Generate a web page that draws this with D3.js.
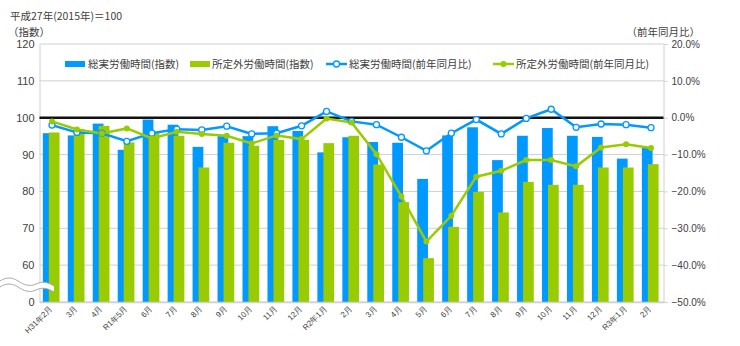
<!DOCTYPE html>
<html><head><meta charset="utf-8">
<script src="https://cdn.jsdelivr.net/npm/d3@7"></script>
<style>
body{margin:0;background:#fff;}
svg{display:block;font-family:"Noto Sans CJK JP","Noto Sans",sans-serif;}
</style></head>
<body><svg id="c" width="740" height="346"></svg>
<script>
const categories = ["H31年2月","3月","4月","R1年5月","6月","7月","8月","9月","10月","11月","12月","R2年1月","2月","3月","4月","5月","6月","7月","8月","9月","10月","11月","12月","R3年1月","2月"];
const totalIndex = [95.8,95.2,98.4,91.3,99.5,98.1,92.1,95.0,95.0,97.7,96.4,90.6,94.7,93.4,93.2,83.4,95.2,97.4,88.5,95.1,97.2,95.1,94.8,88.9,91.8];
const overtimeIndex = [96.0,96.9,97.8,93.3,95.8,95.1,86.5,93.2,92.4,94.0,94.0,93.1,95.1,87.3,77.1,61.9,70.4,79.9,74.3,82.6,81.8,81.8,86.5,86.5,87.4];
const totalYoY = [-2.0,-4.0,-4.2,-6.4,-4.2,-3.1,-3.3,-2.3,-4.4,-4.2,-2.2,1.7,-1.0,-1.9,-5.3,-9.0,-4.2,-0.5,-4.4,-0.2,2.3,-2.6,-1.7,-1.9,-2.7];
const overtimeYoY = [-1.0,-3.2,-4.3,-2.9,-5.6,-3.8,-4.4,-4.9,-7.0,-4.8,-5.8,-0.2,-1.3,-9.9,-21.4,-33.6,-26.6,-16.0,-14.4,-11.5,-11.5,-13.2,-8.1,-7.2,-8.2];
const leftTicks = [50,60,70,80,90,100,110,120];
const leftTickLabels = ["0","60","70","80","90","100","110","120"];
const rightTicks = [-50,-40,-30,-20,-10,0,10,20];
const seriesNames = ["総実労働時間(指数)","所定外労働時間(指数)","総実労働時間(前年同月比)","所定外労働時間(前年同月比)"];

const BLUE = "#0099ff", GREEN = "#99cc00", GRID = "#d0d0d0", TXT = "#404040";
const L = 39.5, R = 663.5, T = 44, B = 302;
const svg = d3.select("#c");

const x = d3.scaleBand().domain(d3.range(categories.length)).range([L, R]).padding(0);
const yL = d3.scaleLinear().domain([50, 120]).range([B, T]);
const yR = d3.scaleLinear().domain([-50, 20]).range([B, T]);
const bw = x.bandwidth();

// gridlines
svg.append("g").selectAll("line").data(leftTicks).join("line")
  .attr("x1", L).attr("x2", R).attr("y1", d => yL(d)).attr("y2", d => yL(d))
  .attr("stroke", GRID).attr("stroke-width", 1);

// left axis
const gl = svg.append("g").attr("transform", `translate(${L},0)`)
  .call(d3.axisLeft(yL).tickValues(leftTicks).tickFormat((d, i) => leftTickLabels[i]).tickSize(0).tickPadding(5));
gl.select(".domain").attr("stroke", GRID);
gl.selectAll("text").attr("fill", TXT).style("font-size", "11px").style("font-family", "'Liberation Sans',Arial,sans-serif");

// right axis
const gr = svg.append("g").attr("transform", `translate(${R},0)`)
  .call(d3.axisRight(yR).tickValues(rightTicks).tickFormat(d => (d < 0 ? "−" + Math.abs(d).toFixed(1) : d.toFixed(1)) + "%").tickSize(4).tickPadding(4));
gr.select(".domain").attr("stroke", GRID);
gr.selectAll("line").attr("stroke", GRID);
gr.selectAll("text").attr("fill", TXT).style("font-size", "10px").style("font-family", "'Liberation Sans',Arial,sans-serif");

// bars
svg.append("g").selectAll("rect").data(totalIndex).join("rect")
  .attr("x", (d, i) => x(i) + bw * 0.133).attr("width", bw * 0.43)
  .attr("y", d => yL(d)).attr("height", d => yL(50) - yL(d)).attr("fill", BLUE);
svg.append("g").selectAll("rect").data(overtimeIndex).join("rect")
  .attr("x", (d, i) => x(i) + bw * 0.373).attr("width", bw * 0.43)
  .attr("y", d => yL(d)).attr("height", d => yL(50) - yL(d)).attr("fill", GREEN);

// bottom axis
const gb = svg.append("g").attr("transform", `translate(0,${B})`)
  .call(d3.axisBottom(x).tickSize(0).tickFormat(i => categories[i]));
gb.select(".domain").attr("stroke", GRID).attr("stroke-width", 1.5);
gb.selectAll("text").attr("fill", TXT).style("font-size", "8px")
  .attr("text-anchor", "end").attr("dy", 0)
  .attr("transform", "translate(-1,5) rotate(-45)");

// zero/100 line
svg.append("line").attr("x1", L).attr("x2", R).attr("y1", yR(0)).attr("y2", yR(0))
  .attr("stroke", "#111").attr("stroke-width", 2.5);

// lines
const cx = i => x(i) + bw / 2;
const lineGen = d3.line().x((d, i) => cx(i)).y(d => yR(d));
svg.append("path").datum(totalYoY).attr("d", lineGen).attr("fill", "none").attr("stroke", BLUE).attr("stroke-width", 2.5);
svg.append("path").datum(overtimeYoY).attr("d", lineGen).attr("fill", "none").attr("stroke", GREEN).attr("stroke-width", 2.5);
svg.append("g").selectAll("circle").data(totalYoY).join("circle")
  .attr("cx", (d, i) => cx(i)).attr("cy", d => yR(d)).attr("r", 3)
  .attr("fill", "#fff").attr("stroke", BLUE).attr("stroke-width", 1.3);
svg.append("g").selectAll("circle").data(overtimeYoY).join("circle")
  .attr("cx", (d, i) => cx(i)).attr("cy", d => yR(d)).attr("r", 3)
  .attr("fill", GREEN);

// axis break symbol
const wave = "M0,281 C6,277 12,277 18,281 C24,285 30,287 36,284 C42,281 48,282 54,286 L54,292 C48,288 42,287 36,290 C30,293 24,291 18,287 C12,283 6,283 0,287 Z";
svg.append("path").attr("d", wave).attr("fill", "#fff").attr("stroke", "none");
svg.append("path").attr("d", "M0,281 C6,277 12,277 18,281 C24,285 30,287 36,284 C42,281 48,282 54,286").attr("fill", "none").attr("stroke", "#aaa").attr("stroke-width", 1);
svg.append("path").attr("d", "M0,287 C6,283 12,283 18,287 C24,291 30,293 36,290 C42,287 48,288 54,292").attr("fill", "none").attr("stroke", "#aaa").attr("stroke-width", 1);

// legend
const legY = 64;
const leg = svg.append("g").style("font-size", "10.5px").attr("fill", TXT);
leg.append("rect").attr("x", 65).attr("y", legY - 3).attr("width", 20).attr("height", 6).attr("fill", BLUE);
leg.append("text").attr("x", 88).attr("y", legY + 4).text(seriesNames[0]);
leg.append("rect").attr("x", 190).attr("y", legY - 3).attr("width", 20).attr("height", 6).attr("fill", GREEN);
leg.append("text").attr("x", 212).attr("y", legY + 4).text(seriesNames[1]);
leg.append("line").attr("x1", 326).attr("x2", 347).attr("y1", legY).attr("y2", legY).attr("stroke", BLUE).attr("stroke-width", 2.5);
leg.append("circle").attr("cx", 336.5).attr("cy", legY).attr("r", 3).attr("fill", "#fff").attr("stroke", BLUE).attr("stroke-width", 1.3);
leg.append("text").attr("x", 349).attr("y", legY + 4).text(seriesNames[2]);
leg.append("line").attr("x1", 493).attr("x2", 514).attr("y1", legY).attr("y2", legY).attr("stroke", GREEN).attr("stroke-width", 2.5);
leg.append("circle").attr("cx", 503.5).attr("cy", legY).attr("r", 3).attr("fill", GREEN);
leg.append("text").attr("x", 516).attr("y", legY + 4).text(seriesNames[3]);

// titles
const tt = svg.append("g").style("font-size", "10.5px").attr("fill", TXT);
tt.append("text").attr("x", 10).attr("y", 20).text("平成27年(2015年)＝100");
tt.append("text").attr("x", 8).attr("y", 36).text("（指数）");
tt.append("text").attr("x", 700).attr("y", 36).attr("text-anchor", "end").text("（前年同月比）");
</script></body></html>
